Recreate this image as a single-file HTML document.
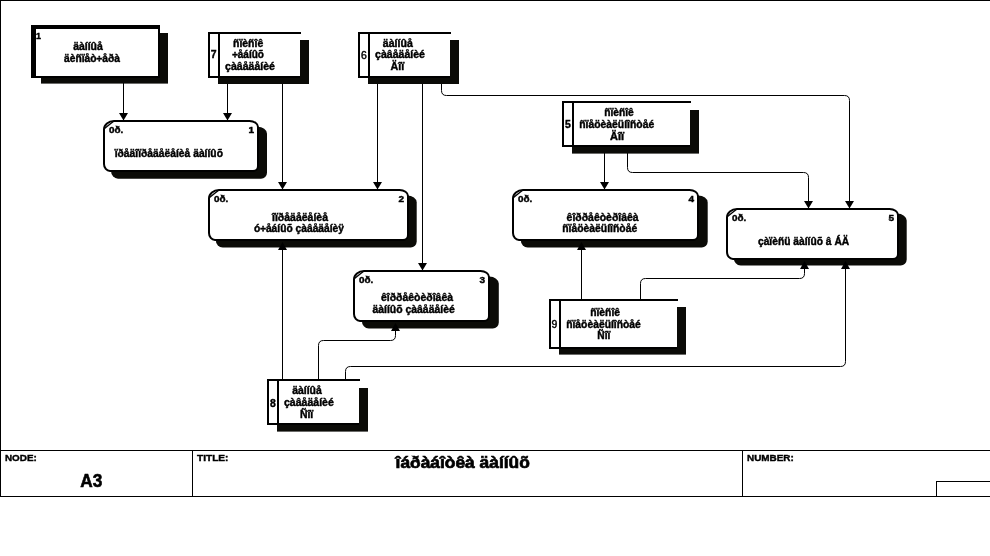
<!DOCTYPE html>
<html lang="ru">
<head>
<meta charset="utf-8">
<title>A3 îáðàáîòêà äàííûõ</title>
<style>
html,body{margin:0;padding:0;background:#fff;}
body{width:990px;height:556px;overflow:hidden;}
svg{display:block;will-change:transform;font-family:"Liberation Sans",Arial,Helvetica,sans-serif;}
</style>
</head>
<body>
<svg width="990" height="556" viewBox="0 0 990 556">
<rect x="0" y="0" width="990" height="556" fill="#fff"/>
<g shape-rendering="crispEdges">
<rect x="0" y="0" width="990" height="1" fill="#000" />
<rect x="0" y="0" width="1" height="497" fill="#000" />
<rect x="0" y="450" width="990" height="1" fill="#000" />
<rect x="0" y="496" width="990" height="1" fill="#000" />
<rect x="192" y="450" width="1" height="47" fill="#000" />
<rect x="742" y="450" width="1" height="47" fill="#000" />
<rect x="936" y="481" width="54" height="1" fill="#000" />
<rect x="936" y="481" width="1" height="16" fill="#000" />
</g>
<g fill="none" stroke="#000" stroke-width="1">
<path d="M123.5 76V120" shape-rendering="crispEdges"/>
<path d="M227.5 76V120" shape-rendering="crispEdges"/>
<path d="M282.5 76V190" shape-rendering="crispEdges"/>
<path d="M377.5 76V190" shape-rendering="crispEdges"/>
<path d="M422.5 76V271" shape-rendering="crispEdges"/>
<path d="M604.5 146V190" shape-rendering="crispEdges"/>
<path d="M282.5 380V240" shape-rendering="crispEdges"/>
<path d="M581.5 300V240" shape-rendering="crispEdges"/>
<path d="M441.5 76V90.5Q441.5 95.5 446.5 95.5H844.5Q849.5 95.5 849.5 100.5V208"/>
<path d="M627.5 146V167.5Q627.5 172.5 632.5 172.5H803.5Q808.5 172.5 808.5 177.5V208"/>
<path d="M318.5 380V345.5Q318.5 340.5 323.5 340.5H390.5Q395.5 340.5 395.5 335.5V321"/>
<path d="M345.5 380V371.5Q345.5 366.5 350.5 366.5H840.5Q845.5 366.5 845.5 361.5V259"/>
<path d="M640.5 300V283.5Q640.5 278.5 645.5 278.5H799.5Q804.5 278.5 804.5 273.5V259"/>
</g>
<rect x="41" y="33" width="127" height="50.6" fill="#0b0b07" />
<g shape-rendering="crispEdges">
<rect x="31" y="25" width="129" height="53" fill="#000" />
<rect x="36" y="29" width="122" height="47" fill="#fff" />
</g>
<rect x="218" y="40" width="91" height="44" fill="#0b0b07" />
<g shape-rendering="crispEdges">
<rect x="208" y="32" width="92" height="44" fill="#fff" />
<rect x="208" y="32" width="93" height="2" fill="#000" />
<rect x="208" y="32" width="2" height="46" fill="#000" />
<rect x="218" y="32" width="2" height="46" fill="#000" />
<rect x="208" y="76" width="12" height="2" fill="#000" />
<rect x="218" y="76" width="82" height="2" fill="#000" />
</g>
<rect x="368" y="40" width="91" height="44" fill="#0b0b07" />
<g shape-rendering="crispEdges">
<rect x="358" y="32" width="92" height="44" fill="#fff" />
<rect x="358" y="32" width="93" height="2" fill="#000" />
<rect x="358" y="32" width="2" height="46" fill="#000" />
<rect x="368" y="32" width="2" height="46" fill="#000" />
<rect x="358" y="76" width="12" height="2" fill="#000" />
<rect x="368" y="76" width="82" height="2" fill="#000" />
</g>
<rect x="572" y="110" width="127" height="43.6" fill="#0b0b07" />
<g shape-rendering="crispEdges">
<rect x="562" y="101" width="128" height="44" fill="#fff" />
<rect x="562" y="101" width="129" height="2" fill="#000" />
<rect x="562" y="101" width="2" height="46" fill="#000" />
<rect x="572" y="101" width="2" height="46" fill="#000" />
<rect x="562" y="145" width="12" height="2" fill="#000" />
<rect x="572" y="145" width="118" height="2" fill="#000" />
</g>
<rect x="277" y="388" width="91" height="43.6" fill="#0b0b07" />
<g shape-rendering="crispEdges">
<rect x="267" y="379" width="92" height="44" fill="#fff" />
<rect x="267" y="379" width="93" height="2" fill="#000" />
<rect x="267" y="379" width="2" height="46" fill="#000" />
<rect x="277" y="379" width="2" height="46" fill="#000" />
<rect x="267" y="423" width="12" height="2" fill="#000" />
<rect x="277" y="423" width="82" height="2" fill="#000" />
</g>
<rect x="559" y="307" width="127" height="47.6" fill="#0b0b07" />
<g shape-rendering="crispEdges">
<rect x="549" y="299" width="128" height="48" fill="#fff" />
<rect x="549" y="299" width="129" height="2" fill="#000" />
<rect x="549" y="299" width="2" height="50" fill="#000" />
<rect x="559" y="299" width="2" height="50" fill="#000" />
<rect x="549" y="347" width="12" height="2" fill="#000" />
<rect x="559" y="347" width="118" height="2" fill="#000" />
</g>
<path d="M122 126.69999999999999H257.5A9.5 7 0 0 1 267 133.7V172.7A6 6 0 0 1 261 178.7H118A7 8 0 0 1 111 170.7V136.2A11 9.5 0 0 1 122 126.69999999999999Z" fill="#0b0b07"/>
<path d="M114 121H249.5A8.5 6 0 0 1 258 127V166A5 5 0 0 1 253 171H110A6 7 0 0 1 104 164V129.5A10 8.5 0 0 1 114 121Z" fill="#fff" stroke="#000" stroke-width="2"/>
<path d="M104.2 128.8L113.6 121.2" stroke="#000" stroke-width="1.4" fill="none"/>
<path d="M226.7 195.5H407.2A9.5 7 0 0 1 416.7 202.5V241.5A6 6 0 0 1 410.7 247.5H222.7A7 8 0 0 1 215.7 239.5V205.0A11 9.5 0 0 1 226.7 195.5Z" fill="#0b0b07"/>
<path d="M219 190H399.5A8.5 6 0 0 1 408 196V235A5 5 0 0 1 403 240H215A6 7 0 0 1 209 233V198.5A10 8.5 0 0 1 219 190Z" fill="#fff" stroke="#000" stroke-width="2"/>
<path d="M209.2 197.8L218.6 190.2" stroke="#000" stroke-width="1.4" fill="none"/>
<path d="M372.8 276.6H489.3A9.5 7 0 0 1 498.8 283.6V322.6A6 6 0 0 1 492.8 328.6H368.8A7 8 0 0 1 361.8 320.6V286.1A11 9.5 0 0 1 372.8 276.6Z" fill="#0b0b07"/>
<path d="M364 271H480.5A8.5 6 0 0 1 489 277V316A5 5 0 0 1 484 321H360A6 7 0 0 1 354 314V279.5A10 8.5 0 0 1 364 271Z" fill="#fff" stroke="#000" stroke-width="2"/>
<path d="M354.2 278.8L363.6 271.2" stroke="#000" stroke-width="1.4" fill="none"/>
<path d="M531.7 195.5H698.2A9.5 7 0 0 1 707.7 202.5V241.5A6 6 0 0 1 701.7 247.5H527.7A7 8 0 0 1 520.7 239.5V205.0A11 9.5 0 0 1 531.7 195.5Z" fill="#0b0b07"/>
<path d="M523 190H689.5A8.5 6 0 0 1 698 196V235A5 5 0 0 1 693 240H519A6 7 0 0 1 513 233V198.5A10 8.5 0 0 1 523 190Z" fill="#fff" stroke="#000" stroke-width="2"/>
<path d="M513.2 197.8L522.6 190.2" stroke="#000" stroke-width="1.4" fill="none"/>
<path d="M744.7 213.60000000000002H897.2A9.5 7 0 0 1 906.7 220.60000000000002V259.6A6 6 0 0 1 900.7 265.6H740.7A7 8 0 0 1 733.7 257.6V223.10000000000002A11 9.5 0 0 1 744.7 213.60000000000002Z" fill="#0b0b07"/>
<path d="M737 209H889.5A8.5 6 0 0 1 898 215V254A5 5 0 0 1 893 259H733A6 7 0 0 1 727 252V217.5A10 8.5 0 0 1 737 209Z" fill="#fff" stroke="#000" stroke-width="2"/>
<path d="M727.2 216.8L736.6 209.2" stroke="#000" stroke-width="1.4" fill="none"/>
<path d="M119.0 113H128.0L123.5 120.5Z" fill="#000"/>
<path d="M223.0 113H232.0L227.5 120.5Z" fill="#000"/>
<path d="M278.0 182H287.0L282.5 189.5Z" fill="#000"/>
<path d="M373.0 182H382.0L377.5 189.5Z" fill="#000"/>
<path d="M418.0 263H427.0L422.5 270.5Z" fill="#000"/>
<path d="M600.0 182H609.0L604.5 189.5Z" fill="#000"/>
<path d="M804.0 201H813.0L808.5 208.5Z" fill="#000"/>
<path d="M845.0 201H854.0L849.5 208.5Z" fill="#000"/>
<path d="M278.0 250H287.0L282.5 242Z" fill="#000"/>
<path d="M391.0 331H400.0L395.5 323Z" fill="#000"/>
<path d="M577.0 250H586.0L581.5 242Z" fill="#000"/>
<path d="M800.0 269H809.0L804.5 261Z" fill="#000"/>
<path d="M841.0 269H850.0L845.5 261Z" fill="#000"/>
<g fill="#000" stroke="#000" stroke-width="0.4">
<text x="38.6" y="38.8" font-size="9" font-weight="bold" text-anchor="middle" textLength="5" lengthAdjust="spacingAndGlyphs">1</text>
<text x="88" y="50.1" font-size="10" font-weight="bold" text-anchor="middle" textLength="29.7" lengthAdjust="spacingAndGlyphs">äàííûå</text>
<text x="92" y="62.2" font-size="10" font-weight="bold" text-anchor="middle" textLength="55.8" lengthAdjust="spacingAndGlyphs">äèñïåò÷åðà</text>
<text x="213.7" y="58.3" font-size="10" font-weight="bold" text-anchor="middle" textLength="5.8" lengthAdjust="spacingAndGlyphs">7</text>
<text x="248.1" y="46.9" font-size="10" font-weight="bold" text-anchor="middle" textLength="30.2" lengthAdjust="spacingAndGlyphs">ñïèñîê</text>
<text x="248.1" y="58.0" font-size="10" font-weight="bold" text-anchor="middle" textLength="31.7" lengthAdjust="spacingAndGlyphs">÷åáíûõ</text>
<text x="250" y="69.9" font-size="10" font-weight="bold" text-anchor="middle" textLength="50" lengthAdjust="spacingAndGlyphs">çàâåäåíèé</text>
<text x="363.8" y="58.6" font-size="10" font-weight="normal" text-anchor="middle" textLength="5.8" lengthAdjust="spacingAndGlyphs">6</text>
<text x="397.8" y="46.5" font-size="10" font-weight="bold" text-anchor="middle" textLength="30" lengthAdjust="spacingAndGlyphs">äàííûå</text>
<text x="400" y="57.8" font-size="10" font-weight="bold" text-anchor="middle" textLength="50" lengthAdjust="spacingAndGlyphs">çàâåäåíèé</text>
<text x="397.3" y="69.7" font-size="10" font-weight="bold" text-anchor="middle" textLength="13.6" lengthAdjust="spacingAndGlyphs">Äîï</text>
<text x="567.8" y="127.6" font-size="10" font-weight="bold" text-anchor="middle" textLength="5.8" lengthAdjust="spacingAndGlyphs">5</text>
<text x="619" y="115.9" font-size="10" font-weight="bold" text-anchor="middle" textLength="29.6" lengthAdjust="spacingAndGlyphs">ñïèñîê</text>
<text x="616.7" y="128.0" font-size="10" font-weight="bold" text-anchor="middle" textLength="75" lengthAdjust="spacingAndGlyphs">ñïåöèàëüíîñòåé</text>
<text x="617" y="140.1" font-size="10" font-weight="bold" text-anchor="middle" textLength="14" lengthAdjust="spacingAndGlyphs">Äîï</text>
<text x="273" y="406.5" font-size="10" font-weight="bold" text-anchor="middle" textLength="5.8" lengthAdjust="spacingAndGlyphs">8</text>
<text x="307" y="394.0" font-size="10" font-weight="bold" text-anchor="middle" textLength="29.7" lengthAdjust="spacingAndGlyphs">äàííûå</text>
<text x="308.9" y="405.7" font-size="10" font-weight="bold" text-anchor="middle" textLength="50" lengthAdjust="spacingAndGlyphs">çàâåäåíèé</text>
<text x="306.6" y="417.9" font-size="10" font-weight="bold" text-anchor="middle" textLength="13.3" lengthAdjust="spacingAndGlyphs">Ñîï</text>
<text x="554.5" y="328" font-size="10" font-weight="normal" text-anchor="middle" textLength="5.8" lengthAdjust="spacingAndGlyphs">9</text>
<text x="605.1" y="315.9" font-size="10" font-weight="bold" text-anchor="middle" textLength="29.8" lengthAdjust="spacingAndGlyphs">ñïèñîê</text>
<text x="603.5" y="328.0" font-size="10" font-weight="bold" text-anchor="middle" textLength="74.6" lengthAdjust="spacingAndGlyphs">ñïåöèàëüíîñòåé</text>
<text x="603.8" y="338.8" font-size="10" font-weight="bold" text-anchor="middle" textLength="13" lengthAdjust="spacingAndGlyphs">Ñîï</text>
<text x="108.9" y="132.7" font-size="9" font-weight="bold" text-anchor="start" textLength="14.3" lengthAdjust="spacingAndGlyphs">0ð.</text>
<text x="251.4" y="132.7" font-size="9" font-weight="bold" text-anchor="middle" textLength="5.6" lengthAdjust="spacingAndGlyphs">1</text>
<text x="213.9" y="201.7" font-size="9" font-weight="bold" text-anchor="start" textLength="14.3" lengthAdjust="spacingAndGlyphs">0ð.</text>
<text x="401.4" y="201.7" font-size="9" font-weight="bold" text-anchor="middle" textLength="5.6" lengthAdjust="spacingAndGlyphs">2</text>
<text x="358.9" y="282.7" font-size="9" font-weight="bold" text-anchor="start" textLength="14.3" lengthAdjust="spacingAndGlyphs">0ð.</text>
<text x="482.4" y="282.7" font-size="9" font-weight="bold" text-anchor="middle" textLength="5.6" lengthAdjust="spacingAndGlyphs">3</text>
<text x="517.9" y="201.7" font-size="9" font-weight="bold" text-anchor="start" textLength="14.3" lengthAdjust="spacingAndGlyphs">0ð.</text>
<text x="691.4" y="201.7" font-size="9" font-weight="bold" text-anchor="middle" textLength="5.6" lengthAdjust="spacingAndGlyphs">4</text>
<text x="731.9" y="220.7" font-size="9" font-weight="bold" text-anchor="start" textLength="14.3" lengthAdjust="spacingAndGlyphs">0ð.</text>
<text x="891.4" y="220.7" font-size="9" font-weight="bold" text-anchor="middle" textLength="5.6" lengthAdjust="spacingAndGlyphs">5</text>
<text x="168.8" y="156.5" font-size="10" font-weight="bold" text-anchor="middle" textLength="108.3" lengthAdjust="spacingAndGlyphs">ïðåäîïðåäåëåíèå äàííûõ</text>
<text x="300" y="220.9" font-size="10" font-weight="bold" text-anchor="middle" textLength="56" lengthAdjust="spacingAndGlyphs">îïðåäåëåíèå</text>
<text x="299" y="231.8" font-size="10" font-weight="bold" text-anchor="middle" textLength="90" lengthAdjust="spacingAndGlyphs">ó÷åáíûõ çàâåäåíèÿ</text>
<text x="417" y="300.9" font-size="10" font-weight="bold" text-anchor="middle" textLength="72" lengthAdjust="spacingAndGlyphs">êîððåêòèðîâêà</text>
<text x="413.6" y="312.6" font-size="10" font-weight="bold" text-anchor="middle" textLength="82.4" lengthAdjust="spacingAndGlyphs">äàííûõ çàâåäåíèé</text>
<text x="602.6" y="221.1" font-size="10" font-weight="bold" text-anchor="middle" textLength="72" lengthAdjust="spacingAndGlyphs">êîððåêòèðîâêà</text>
<text x="599.7" y="231.9" font-size="10" font-weight="bold" text-anchor="middle" textLength="75" lengthAdjust="spacingAndGlyphs">ñïåöèàëüíîñòåé</text>
<text x="803.6" y="245.2" font-size="10" font-weight="bold" text-anchor="middle" textLength="91.3" lengthAdjust="spacingAndGlyphs">çàïèñü äàííûõ â ÁÄ</text>
<text x="5" y="460.7" font-size="9.5" font-weight="bold" text-anchor="start" textLength="31.8" lengthAdjust="spacingAndGlyphs">NODE:</text>
<text x="197" y="460.7" font-size="9.5" font-weight="bold" text-anchor="start" textLength="31.5" lengthAdjust="spacingAndGlyphs">TITLE:</text>
<text x="747" y="460.7" font-size="9.5" font-weight="bold" text-anchor="start" textLength="46.8" lengthAdjust="spacingAndGlyphs">NUMBER:</text>
<text x="91.3" y="487" font-size="18" font-weight="bold" text-anchor="middle" textLength="22" lengthAdjust="spacingAndGlyphs" stroke-width="0.6">A3</text>
<text x="462.7" y="468" font-size="17" font-weight="bold" text-anchor="middle" textLength="134.3" lengthAdjust="spacingAndGlyphs" stroke-width="0.7">îáðàáîòêà äàííûõ</text>
</g>
</svg>
</body>
</html>
